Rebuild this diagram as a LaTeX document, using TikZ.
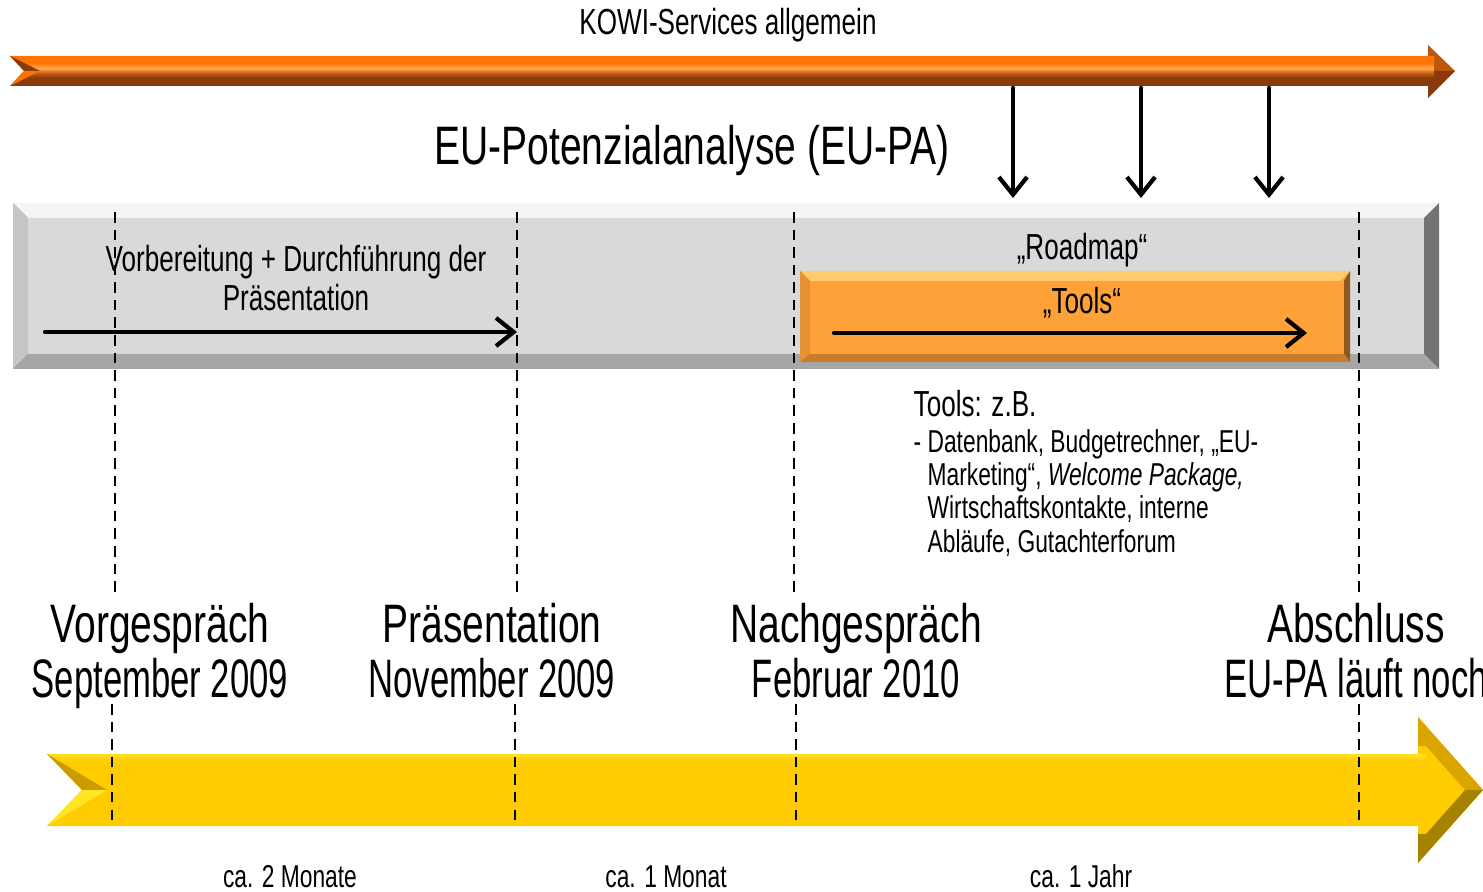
\documentclass[tikz,border=0pt]{standalone}
\usepackage{fontspec}
\setmainfont{Liberation Sans}[FakeStretch=0.72]
\newfontfamily\datefont{Liberation Sans}[FakeStretch=0.64]
\usetikzlibrary{arrows.meta}

\definecolor{kowiorange}{HTML}{FF7300}
\definecolor{kowilight}{HTML}{FFA850}
\definecolor{kowimid}{HTML}{C0560C}
\definecolor{kowibrown}{HTML}{8A3A0A}
\definecolor{boxgray}{HTML}{D9D9D9}
\definecolor{toolorange}{HTML}{FFA139}
\definecolor{toollight}{HTML}{FFCB6B}
\definecolor{paygold}{HTML}{FFCC00}
\definecolor{paylight}{HTML}{FFF030}
\definecolor{paydeep}{HTML}{D9A600}
\definecolor{paybrown}{HTML}{7E6200}

\pgfdeclareverticalshading{kowishaft}{100bp}{color(0bp)=(kowibrown); color(38bp)=(kowibrown); color(46bp)=(kowimid); color(54bp)=(kowilight); color(64bp)=(kowiorange); color(100bp)=(kowiorange)}
\pgfdeclareverticalshading{payshaft}{100bp}{color(0bp)=(paybrown); color(14bp)=(paybrown!60!paygold); color(18bp)=(paygold); color(70bp)=(paygold); color(78bp)=(paylight); color(85bp)=(paygold); color(100bp)=(paygold)}

\begin{document}
\begin{tikzpicture}[line cap=round,line join=round,>={Straight Barb[length=5pt,width=8pt]},x=0.01cm,y=-0.01cm]
\tikzstyle{mydashed}=[line width=0.6pt, line cap=butt, dash pattern=on 3pt off 2pt]
\tikzstyle{timearrow}=[line width=1.2pt, ->]
\tikzstyle{bigtext}=[font=\fontsize{15.4}{15.4}\selectfont, align=center, inner sep=0pt]
\tikzstyle{midtext}=[font=\fontsize{10.3}{11.1}\selectfont, align=center, inner sep=0pt]
\tikzstyle{smalltext}=[font=\fontsize{9}{9.4}\selectfont, inner sep=0pt]
\useasboundingbox (0,0) rectangle (1483,892);
% KOWI-Services arrow on top
\fill [kowimid] (1428,45) -- (1455,71) -- (1428,71) -- cycle;
\fill [kowibrown] (1428,71) -- (1455,71) -- (1428,98) -- cycle;
\shade [shading=kowishaft] (10,56) -- (1434,56) -- (1434,86) -- (10,86) -- (24,71) -- cycle;
\fill [kowibrown] (10,56) -- (40,71) -- (24,71) -- cycle;
\fill [kowiorange] (10,86) -- (24,71) -- (40,71) -- cycle;
\node [midtext, anchor=base] (kowi) at (728,35) {KOWI-Services allgemein};
% EU-PA box
\fill [gray!55] (13,203) rectangle (1439,369);
\fill [gray!8] (13,203) -- (1439,203) -- (1424,218) -- (28,218) -- cycle;
\fill [gray!45] (13,203) -- (28,218) -- (28,354) -- (13,369) -- cycle;
\fill [gray!90!black] (1439,203) -- (1439,369) -- (1424,354) -- (1424,218) -- cycle;
\fill [gray!70] (13,369) -- (1439,369) -- (1424,354) -- (28,354) -- cycle;
\fill [boxgray] (28,218) rectangle (1424,354);
% Tools box
\fill [toolorange] (800,271) rectangle (1350,362);
\fill [toollight] (800,271) -- (1350,271) -- (1340,281) -- (810,281) -- cycle;
\fill [toolorange!90!black] (800,271) -- (810,281) -- (810,354) -- (800,362) -- cycle;
\fill [toolorange!55!black] (1350,271) -- (1350,362) -- (1344,354) -- (1344,281) -- cycle;
\fill [toolorange!78!black] (800,362) -- (1350,362) -- (1344,354) -- (810,354) -- cycle;
\fill [toolorange] (810,281) rectangle (1340,354);
\node [bigtext, anchor=base] (epa) at (692,165) {EU-Potenzialanalyse (EU-PA)};
\foreach \x [count=\i] in {1013,1141,1269} {
  \coordinate (top\i) at (\x,88);
  \coordinate (bot\i) at (\x,198);
  \draw [timearrow] (top\i) -- (bot\i);
}
% dashed marks, upper part
\foreach \x [count=\i] in {115,517,794,1359} {
  \coordinate (da\i) at (\x,212);
  \coordinate (db\i) at (\x,596);
  \draw [mydashed] (da\i) -- (db\i);
}
\coordinate (prepstart) at (45,332);
\coordinate (prepend) at (517,332);
\draw [timearrow] (prepstart) -- (prepend);
\coordinate (toolstart) at (834,333);
\coordinate (toolend) at (1307,333);
\draw [timearrow] (toolstart) -- (toolend);
\node [midtext, anchor=north] (prep) at (296,245) {Vorbereitung + Durchführung der\\Präsentation};
\node [midtext, anchor=base] (roadmap) at (1082,260) {„Roadmap“};
\node [midtext, anchor=base] (tools) at (1082,314) {„Tools“};
\node [midtext, anchor=base west] (toolshead) at (913,417) {Tools: z.B.};
\node [smalltext, anchor=north west] (toolslist) at (913,429) {\begin{tabular}{@{}l@{\ }l@{}}
- & Datenbank, Budgetrechner, „EU-\\
 & Marketing“, \textit{Welcome Package,}\\
 & Wirtschaftskontakte, interne\\
 & Abläufe, Gutachterforum
\end{tabular}};
% milestones
\node [bigtext, anchor=north] (vor) at (160,603) {Vorgespräch\\\datefont September 2009};
\node [bigtext, anchor=north] (pres) at (492,603) {Präsentation\\\datefont November 2009};
\node [bigtext, anchor=north] (nach) at (856,603) {Nachgespräch\\\datefont Februar 2010};
\node [bigtext, anchor=north] (abs) at (1356,603) {Abschluss\\\datefont EU-PA läuft noch};
% yellow time arrow
\fill [paygold] (1418,717) -- (1483,790) -- (1418,863) -- cycle;
\fill [paydeep] (1418,717) -- (1483,790) -- (1465,790) -- (1426,746) -- (1418,746) -- cycle;
\fill [paybrown!70!paygold] (1418,863) -- (1483,790) -- (1465,790) -- (1426,834) -- (1418,834) -- cycle;
\shade [shading=payshaft] (47,754) -- (1426,754) -- (1426,826) -- (47,826) -- (82,790) -- cycle;
\fill [paydeep!85!paybrown] (47,754) -- (107,790) -- (82,790) -- cycle;
\fill [paylight!70!paygold] (47,826) -- (82,790) -- (107,790) -- cycle;
% dashed marks, lower part
\foreach \x [count=\i] in {112,515,796,1359} {
  \coordinate (dc\i) at (\x,704);
  \coordinate (dd\i) at (\x,826);
  \draw [mydashed] (dc\i) -- (dd\i);
}
\node [smalltext, anchor=base] (span1) at (290,887) {ca. 2 Monate};
\node [smalltext, anchor=base] (span2) at (666,887) {ca. 1 Monat};
\node [smalltext, anchor=base] (span3) at (1081,887) {ca. 1 Jahr};
\end{tikzpicture}
\end{document}
